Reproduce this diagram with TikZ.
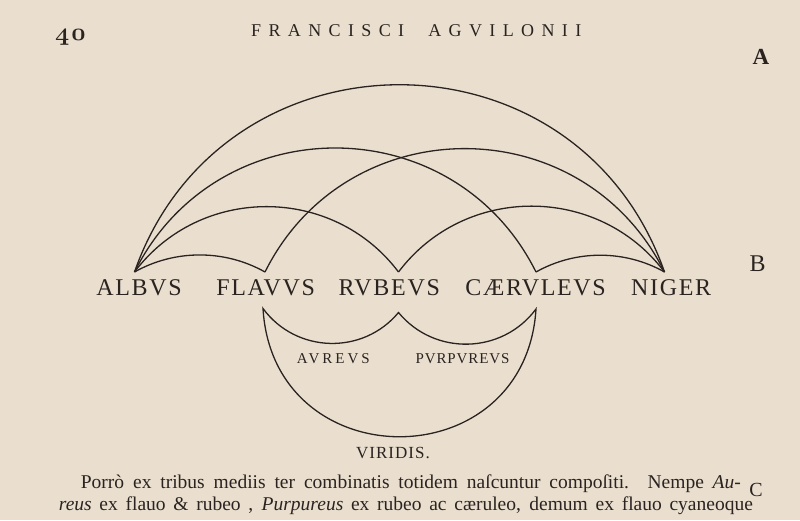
\documentclass[tikz,border=0pt]{standalone}
\usepackage{fontspec}
\setmainfont{Liberation Serif}
\definecolor{paper}{HTML}{EADFCF}
\definecolor{ink}{HTML}{2A2320}
\tikzset{
  colour/.style = {inner sep=0pt, text=ink,
    font=\fontsize{24}{24}\selectfont\addfontfeatures{LetterSpace=7}},
  mixed/.style = {inner sep=0pt, text=ink,
    font=\fontsize{15}{15}\selectfont\addfontfeatures{LetterSpace=#1}},
  mixed/.default = 4,
  margin/.style = {inner sep=0pt, text=ink, font=\fontsize{#1}{#1}\selectfont},
  textline/.style = {inner sep=0pt, anchor=base west, text=ink,
    font=\fontsize{19.5}{22}\selectfont},
  ink line/.style = {draw=ink, line width=1.3pt}
}
\begin{document}
\begin{tikzpicture}[x=1pt,y=1pt]
  \fill[paper] (0,0) rectangle (800,520);
  \useasboundingbox (0,0) rectangle (800,520);
  % page head
  \node[inner sep=0pt, anchor=base west, text=ink] (folio) at (55,479)
    {\fontencoding{OML}\fontfamily{cmm}\fontseries{b}\fontshape{it}\fontsize{24}{24}\selectfont 4\kern2pt 0};
  \node[inner sep=0pt, anchor=base west, text=ink,
    font=\fontsize{18}{18}\selectfont\addfontfeatures{LetterSpace=41}] (head) at (251,483)
    {FRANCISCI\hspace{24pt}AGVILONII};
  % margin letters
  \node[margin=23] (mA) at (761,463.5) {\bfseries A};
  \node[margin=24] (mB) at (757.5,256) {B};
  \node[margin=20] (mC) at (756,30.5) {C};
  % the five simple colours
  \node[colour] (albus) at (139,232) {ALBVS};
  \node[colour] (flavus) at (265.6,232) {FLAVVS};
  \node[colour] (rubeus) at (389.3,232) {RVBEVS};
  \node[colour] (caeruleus) at (535.6,232) {CÆRVLEVS};
  \node[colour] (niger) at (671.2,232) {NIGER};
  \coordinate (al) at (134.5,248);
  \coordinate (fl) at (265,248);
  \coordinate (ru) at (398.5,248);
  \coordinate (ca) at (536,248);
  \coordinate (ni) at (664.5,248);
  \foreach \a/\b/\t/\l in {al/ni/70.7/1.28, al/ca/63.5/1.18, fl/ni/63.5/1.18,
      al/ru/53/1.06, ru/ni/53/1.06, al/fl/29.4/0.91, ca/ni/29.4/0.91}
    \draw[ink line] (\a) to[bend left=\t, looseness=\l] (\b);
  % the three mixed ones
  \coordinate (fl2) at (263,211.5);
  \coordinate (ru2) at (398.5,207.5);
  \coordinate (ca2) at (536,211);
  \draw[ink line, line join=miter] (fl2) to[bend right=52, looseness=1.05] (ru2)
    to[bend right=52, looseness=1.05] (ca2)
    to[bend left=86.5, looseness=1.6] cycle;
  \node[mixed=20] (aureus) at (333.3,161) {AVREVS};
  \node[mixed=6] (purpureus) at (462.5,161) {PVRPVREVS};
  \node[inner sep=0pt, text=ink,
    font=\fontsize{17}{17}\selectfont\addfontfeatures{LetterSpace=6}] (viridis) at (393,67) {VIRIDIS.};
  % text below
  \node[textline] (line1) at (80.7,32)
    {\hbox to 660pt{Porrò ex tribus mediis ter combinatis totidem naſcuntur compoſiti. Nempe \textit{Au-}}};
  \node[textline] (line2) at (58.7,10)
    {\hbox to 694pt{\textit{reus} ex flauo \& rubeo , \textit{Purpureus} ex rubeo ac cæruleo, demum ex flauo cyaneoque}};
\end{tikzpicture}
\end{document}
